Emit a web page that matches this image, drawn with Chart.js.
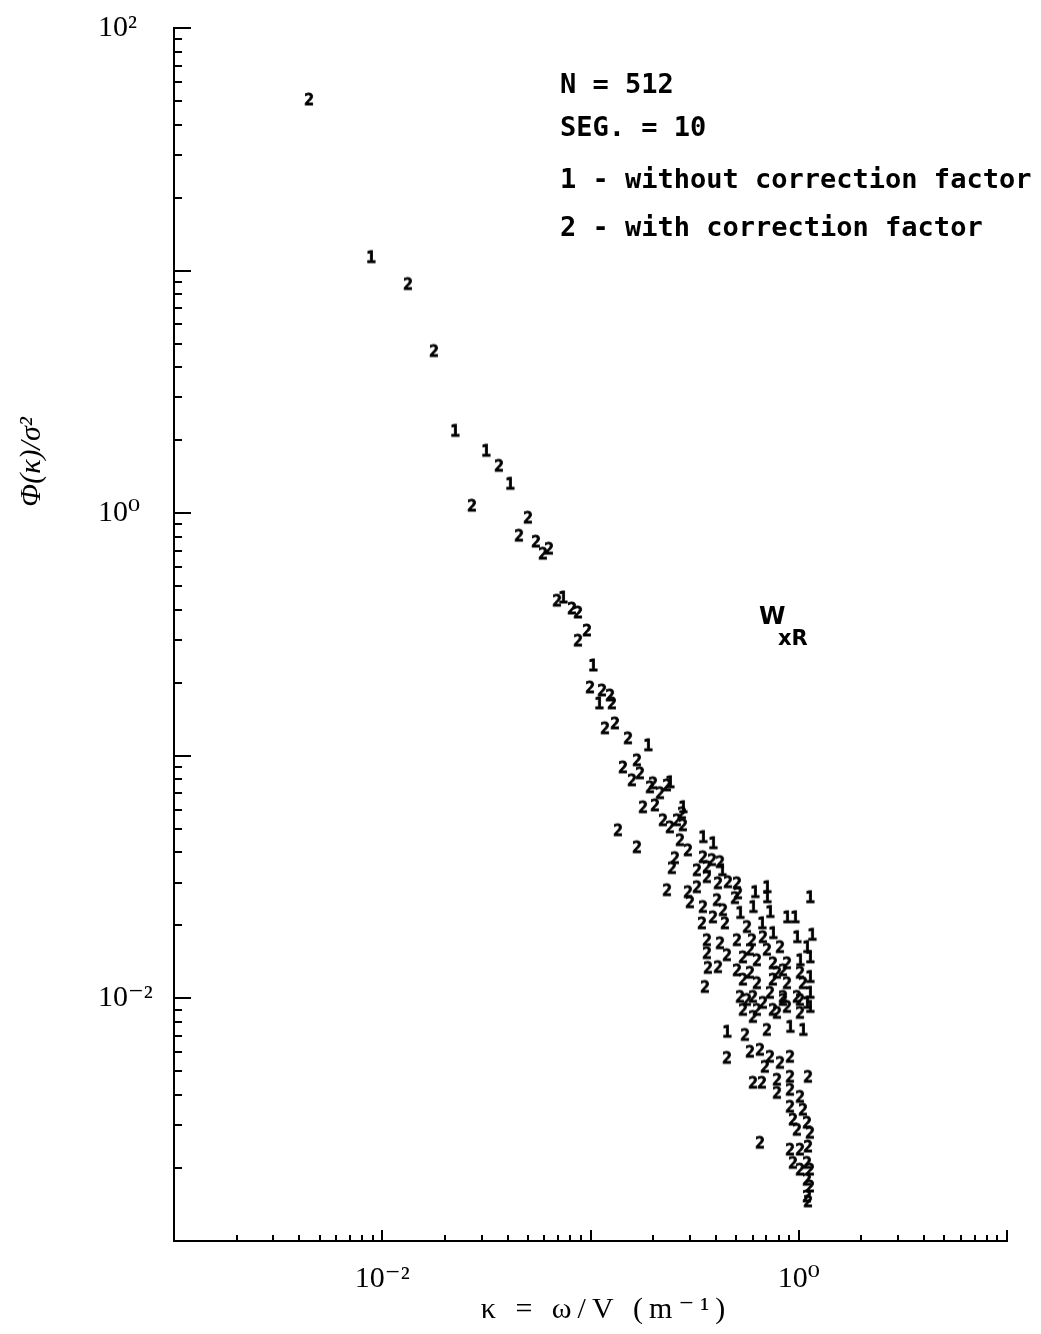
<!DOCTYPE html>
<html>
<head>
<meta charset="utf-8">
<script src="https://cdn.jsdelivr.net/npm/chart.js@4.4.1/dist/chart.umd.min.js"></script>
<style>
  body { margin: 0; background: #fff; }
  #wrap { width: 1041px; height: 1334px; position: relative; }
</style>
</head>
<body>
<div id="wrap"><canvas id="spectrumChart"></canvas></div>
<script>
// series 1 - without correction factor (kappa in 1/m, phi/sigma^2)
const kappa1 = [0.00883, 0.02235, 0.03149, 0.04105, 0.0738, 0.1028, 0.1099, 0.1888, 0.2407, 0.2780,
    0.3468, 0.3875, 0.4281, 0.4523, 0.5223, 0.6030, 0.6164, 0.6660, 0.7038, 0.7038,
    0.7275, 0.7521, 0.8784, 0.9078, 0.9594, 0.9808, 1.014, 1.048, 1.095, 1.095,
    1.132, 1.132, 1.132, 1.132, 1.132, 1.158];
const phi1 = [11.31, 2.175, 1.800, 1.316, 0.447, 0.2346, 0.1637, 0.1100, 0.0774, 0.0611,
    0.0460, 0.0434, 0.0336, 0.00725, 0.0224, 0.0237, 0.0273, 0.0203, 0.0286, 0.0260,
    0.0226, 0.0185, 0.0215, 0.00760, 0.0215, 0.0178, 0.0143, 0.00738, 0.0162, 0.00954,
    0.0260, 0.0147, 0.0122, 0.0105, 0.00918, 0.0182];

// series 2 - with correction factor
const kappa2 = [0.00445, 0.01329, 0.01772, 0.02697, 0.03636, 0.04536, 0.0501, 0.05473, 0.05914, 0.0632,
    0.06905, 0.0815, 0.0871, 0.0871, 0.0962, 0.0995, 0.1136, 0.1174, 0.1241, 0.1268,
    0.1311, 0.1355, 0.1432, 0.1514, 0.1582, 0.1672, 0.1672, 0.1728, 0.1787, 0.1931,
    0.1996, 0.2040, 0.2157, 0.2229, 0.2330, 0.2330, 0.2407, 0.2461, 0.2544, 0.2601,
    0.2690, 0.2750, 0.2780, 0.2938, 0.2938, 0.3004, 0.3246, 0.3246, 0.3430, 0.3468,
    0.3468, 0.3545, 0.3625, 0.3625, 0.3625, 0.3625, 0.3665, 0.3832, 0.3875, 0.4050,
    0.4095, 0.4095, 0.4187, 0.4187, 0.4328, 0.4424, 0.4523, 0.4523, 0.4573, 0.4942,
    0.5052, 0.5052, 0.5052, 0.5109, 0.5223, 0.5399, 0.5399, 0.5399, 0.5520, 0.5643,
    0.5643, 0.5833, 0.5833, 0.5833, 0.5963, 0.6030, 0.6030, 0.6030, 0.6302, 0.6302,
    0.6302, 0.6514, 0.6514, 0.6660, 0.6734, 0.6734, 0.6884, 0.7038, 0.7038, 0.7275,
    0.7275, 0.7521, 0.7521, 0.7521, 0.7863, 0.7863, 0.7863, 0.7863, 0.8128, 0.8128,
    0.8403, 0.8403, 0.8403, 0.8784, 0.8784, 0.8784, 0.9078, 0.9078, 0.9078, 0.9078,
    0.9078, 0.9384, 0.9384, 0.9808, 0.9808, 1.014, 1.014, 1.014, 1.014, 1.014,
    1.014, 1.048, 1.048, 1.095, 1.095, 1.095, 1.095, 1.108, 1.108, 1.108,
    1.132, 1.132, 1.132];
const phi2 = [50.5, 8.76, 4.64, 1.069, 1.561, 0.804, 0.954, 0.760, 0.678, 0.711,
    0.434, 0.403, 0.388, 0.297, 0.327, 0.1905, 0.1851, 0.1292, 0.1766, 0.1637,
    0.1354, 0.0491, 0.0892, 0.1175, 0.0789, 0.0954, 0.0418, 0.0843, 0.0611, 0.0738,
    0.0767, 0.0622, 0.0698, 0.0540, 0.0752, 0.0278, 0.0505, 0.0343, 0.0377, 0.0540,
    0.0447, 0.0577, 0.0515, 0.0406, 0.0273, 0.0248, 0.0336, 0.0286, 0.0203, 0.0380,
    0.0237, 0.0111, 0.0346, 0.0315, 0.0173, 0.0153, 0.0133, 0.0370, 0.0215, 0.0253,
    0.0297, 0.0134, 0.0363, 0.0168, 0.0230, 0.0203, 0.0150, 0.00566, 0.0300, 0.0258,
    0.0297, 0.0173, 0.0130, 0.0270, 0.0101, 0.0147, 0.0119, 0.00893, 0.00704, 0.0196,
    0.00981, 0.0158, 0.0127, 0.00600, 0.0173, 0.0101, 0.00835, 0.00447, 0.0143, 0.0115,
    0.00893, 0.00611, 0.00253, 0.00447, 0.0178, 0.00954, 0.00520, 0.0158, 0.00738, 0.0105,
    0.00572, 0.0139, 0.0119, 0.00893, 0.0127, 0.00868, 0.00460, 0.00406, 0.0162, 0.00540,
    0.0130, 0.0101, 0.00981, 0.0139, 0.0115, 0.00918, 0.00572, 0.00473, 0.00418, 0.00356,
    0.00237, 0.00315, 0.00209, 0.0101, 0.00286, 0.0127, 0.00981, 0.00868, 0.00391, 0.00237,
    0.00196, 0.0115, 0.00346, 0.00306, 0.00209, 0.00178, 0.00152, 0.00473, 0.00244, 0.00145,
    0.00278, 0.00196, 0.00167];

// axis decades and the labels shown on them
const xDecades = [-3, -2, -1, 0, 1];
const yDecades = [-3, -2, -1, 0, 1, 2];
const xTickText = { '-2': '10\u207B\u00B2', '0': '10\u2070' };
const yTickText = { '2': '10\u00B2', '0': '10\u2070', '-2': '10\u207B\u00B2' };

const infoLines = ['N = 512', 'SEG. = 10', '1 - without correction factor', '2 - with correction factor'];

function logTicks(decades) {
    const out = [];
    decades.forEach(function (e, i) {
        const last = i === decades.length - 1 ? 1 : 9;
        for (let s = 1; s <= last; s++) {
            out.push({ value: s * Math.pow(10, e), major: s === 1 });
        }
    });
    return out;
}

function tickLabel(map) {
    return function (value, index, ticks) {
        if (!ticks[index].major) return '';
        const e = Math.round(Math.log10(value));
        return map[e] || '';
    };
}

// plotted symbols are the digits themselves
function glyph(ch) {
    const c = document.createElement('canvas');
    c.width = 14;
    c.height = 18;
    const g = c.getContext('2d');
    g.fillStyle = '#000';
    g.strokeStyle = '#000';
    g.lineWidth = 0.8;
    g.font = 'bold 16px "DejaVu Sans Mono"';
    g.textAlign = 'center';
    g.textBaseline = 'middle';
    g.fillText(ch, 7, 9.5);
    g.strokeText(ch, 7, 9.5);
    return c;
}

function pairs(xs, ys) {
    return xs.map(function (x, i) { return { x: x, y: ys[i] }; });
}

// inward tick marks (long on decades), and the free text of the figure
const decorPlugin = {
    id: 'decor',
    afterDraw(chart) {
        const ctx = chart.ctx;
        const area = chart.chartArea;
        const xs = chart.scales.x;
        const ys = chart.scales.y;
        ctx.save();
        ctx.strokeStyle = '#000';
        ctx.lineWidth = 2;
        ctx.beginPath();
        ys.ticks.forEach(function (t) {
            const py = Math.round(ys.getPixelForValue(t.value));
            ctx.moveTo(area.left, py);
            ctx.lineTo(area.left + (t.major ? 17 : 8), py);
        });
        xs.ticks.forEach(function (t) {
            const px = Math.round(xs.getPixelForValue(t.value));
            ctx.moveTo(px, area.bottom);
            ctx.lineTo(px, area.bottom - (t.major ? 11 : 6));
        });
        ctx.stroke();

        ctx.fillStyle = '#000';
        ctx.textAlign = 'left';
        ctx.textBaseline = 'alphabetic';
        ctx.font = 'bold 27px "DejaVu Sans Mono"';
        const base = [93, 136, 188, 236];
        infoLines.forEach(function (s, i) { ctx.fillText(s, 560, base[i]); });

        ctx.font = 'bold 24px "DejaVu Sans"';
        ctx.fillText('W', 759, 624);
        ctx.font = 'bold 21px "DejaVu Sans"';
        ctx.fillText('xR', 778, 645);

        ctx.font = 'italic 30px "Liberation Serif", "DejaVu Serif"';
        ctx.textAlign = 'center';
        ctx.textBaseline = 'middle';
        ctx.save();
        ctx.translate(32, 462);
        ctx.rotate(-Math.PI / 2);
        ctx.fillText('\u03A6(\u03BA)/\u03C3\u00B2', 0, 0);
        ctx.restore();

        ctx.font = '30px "Liberation Serif", "DejaVu Serif"';
        if ('letterSpacing' in ctx) ctx.letterSpacing = '6px';
        ctx.fillText('\u03BA = \u03C9/V (m\u207B\u00B9)', 606, 1310);
        ctx.restore();
    }
};

const tickFont = { family: '"Liberation Serif", "DejaVu Serif"', size: 30 };

const chartConfig = {
    type: 'scatter',
    data: {
        datasets: [
            {
                label: '1 - without correction factor',
                data: pairs(kappa1, phi1),
                pointStyle: glyph('1'),
                pointRadius: 6
            },
            {
                label: '2 - with correction factor',
                data: pairs(kappa2, phi2),
                pointStyle: glyph('2'),
                pointRadius: 6
            }
        ]
    },
    plugins: [decorPlugin],
    options: {
        responsive: true,
        maintainAspectRatio: false,
        animation: false,
        layout: { padding: { left: 98, top: 26, right: 34, bottom: 0 } },
        plugins: {
            legend: { display: false },
            tooltip: { enabled: false }
        },
        scales: {
            x: {
                type: 'logarithmic',
                position: 'bottom',
                min: 0.001,
                max: 10,
                afterBuildTicks: function (s) { s.ticks = logTicks(xDecades); },
                afterFit: function (s) { s.height = 93; },
                grid: { display: false },
                border: { display: true, color: '#000', width: 2 },
                ticks: {
                    autoSkip: false,
                    maxRotation: 0,
                    padding: 12,
                    color: '#000',
                    font: tickFont,
                    callback: tickLabel(xTickText)
                }
            },
            y: {
                type: 'logarithmic',
                position: 'left',
                min: 0.001,
                max: 100,
                afterBuildTicks: function (s) { s.ticks = logTicks(yDecades); },
                afterFit: function (s) { s.width = 76; },
                grid: { display: false },
                border: { display: true, color: '#000', width: 2 },
                ticks: {
                    autoSkip: false,
                    crossAlign: 'far',
                    padding: 10,
                    color: '#000',
                    font: tickFont,
                    callback: tickLabel(yTickText)
                }
            }
        }
    }
};

window.onload = function () {
    const ctx = document.getElementById('spectrumChart').getContext('2d');
    window.myChart = new Chart(ctx, chartConfig);
};
</script>
</body>
</html>
